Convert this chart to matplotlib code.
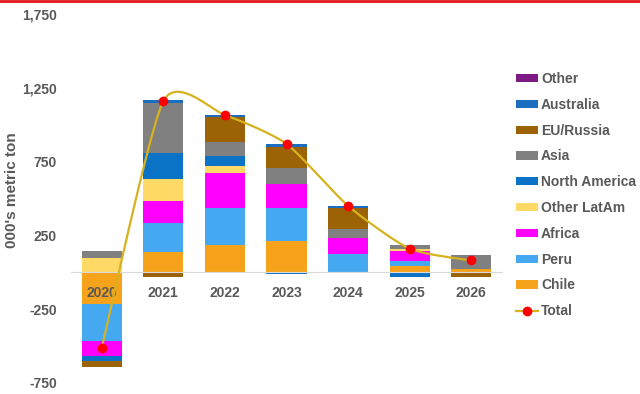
import numpy as np
import matplotlib
matplotlib.use("Agg")
import matplotlib.pyplot as plt
from matplotlib.lines import Line2D

# Data (000's metric ton)
years = ["2020", "2021", "2022", "2023", "2024", "2025", "2026"]
chile = [-216, 135, 183, 210, 5, 40, 25]
peru = [-250, 196, 250, 223, 122, 35, 0]
africa = [-100, 155, 237, 162, 108, 70, 0]
other_latam = [95, 149, 47, 0, 0, 12, 0]
north_america = [-35, 176, 68, -10, 0, -35, 0]
asia = [47, 338, 95, 115, 61, 25, 90]
eu_russia = [-40, -34, 169, 142, 142, 0, -35]
australia = [0, 20, 14, 20, 14, 0, 0]
other = [0, 0, 0, 0, 0, 0, 0]
total = [-510, 1160, 1065, 870, 450, 160, 80]

series = [
    ("Chile", chile, "#F7A21B"),
    ("Peru", peru, "#45A9F2"),
    ("Africa", africa, "#FF00FF"),
    ("Other LatAm", other_latam, "#FFD966"),
    ("North America", north_america, "#0B73C6"),
    ("Asia", asia, "#808080"),
    ("EU/Russia", eu_russia, "#9C6306"),
    ("Australia", australia, "#1A6DBF"),
    ("Other", other, "#7E1A86"),
]

TXT = "#595959"
plt.rcParams["font.family"] = ["Liberation Sans", "DejaVu Sans"]


# Excel-like smoothed line (Bezier through the points, in screen units)
def smooth(x, y, sx, sy, k=0.11, n=40):
    px = np.asarray(x, float) * sx
    py = np.asarray(y, float) * sy
    P = np.column_stack([px, py])
    P = np.vstack([P[0], P, P[-1]])
    out = []
    for i in range(1, len(P) - 2):
        p0, p1, p2, p3 = P[i - 1], P[i], P[i + 1], P[i + 2]
        b1 = p1 + (p2 - p0) * k
        b2 = p2 - (p3 - p1) * k
        t = np.linspace(0, 1, n)[:, None]
        seg = ((1 - t) ** 3) * p1 + 3 * ((1 - t) ** 2) * t * b1 + 3 * (1 - t) * t ** 2 * b2 + t ** 3 * p2
        out.append(seg)
    out = np.vstack(out)
    return out[:, 0] / sx, out[:, 1] / sy


fig = plt.figure(figsize=(6.4, 3.94), dpi=100)
ax = fig.add_axes([71 / 640, 1 - 383 / 394, 431 / 640, (383 - 14) / 394])

x = np.arange(len(years))
pos_base = np.zeros(len(years))
neg_base = np.zeros(len(years))
handles = {}
for name, vals, col in series:
    v = np.asarray(vals, float)
    bottoms = np.where(v >= 0, pos_base, neg_base)
    b = ax.bar(x, v, 0.65, bottom=bottoms, color=col, linewidth=0, zorder=1)
    handles[name] = b
    pos_base = pos_base + np.where(v > 0, v, 0)
    neg_base = neg_base + np.where(v < 0, v, 0)

sxs, sys_ = smooth(x, total, 61.6, 0.148)
ax.plot(sxs, sys_, color="#D6B21E", lw=1.6, zorder=3)
ax.plot(x, total, "o", color="#FF0000", ms=6, zorder=4)
tot_handle = Line2D([], [], color="#D6B21E", lw=1.6, marker="o", mfc="#FF0000", mec="#FF0000", ms=6)

ax.set_xlim(-0.5, 6.5)
ax.set_ylim(-750, 1750)
ax.set_yticks([-750, -250, 250, 750, 1250, 1750])
ax.set_yticklabels(["-750", "-250", "250", "750", "1,250", "1,750"])
ax.set_xticks(x)
ax.set_xticklabels(years)

for s in ["top", "right", "left"]:
    ax.spines[s].set_visible(False)
ax.spines["bottom"].set_position(("data", 0))
ax.spines["bottom"].set_color("#D9D9D9")
ax.tick_params(axis="both", length=0, labelsize=10, labelcolor=TXT)
ax.tick_params(axis="x", pad=10)
ax.tick_params(axis="y", pad=10)
for lab in ax.get_xticklabels() + ax.get_yticklabels():
    lab.set_fontweight("bold")

fig.text(12 / 640, 1 - 190 / 394, "000's metric ton", rotation=90, ha="center", va="center",
         fontsize=11, color=TXT, fontweight="bold")

order = ["Other", "Australia", "EU/Russia", "Asia", "North America", "Other LatAm", "Africa", "Peru", "Chile"]
leg = fig.legend([handles[n] for n in order] + [tot_handle], order + ["Total"],
                 loc="upper left", bbox_to_anchor=(516 / 640, 1 - 72 / 394), frameon=False,
                 fontsize=10, labelspacing=0.85, handlelength=1.6, handleheight=0.55,
                 handletextpad=0.2, borderpad=0, borderaxespad=0)
for t in leg.get_texts():
    t.set_color(TXT)
    t.set_fontweight("bold")

# red rule at the top edge
fig.add_artist(Line2D([0, 1], [1 - 1 / 394, 1 - 1 / 394], color="#E0161B", lw=2, transform=fig.transFigure))

fig.savefig("out.png", dpi=100)
